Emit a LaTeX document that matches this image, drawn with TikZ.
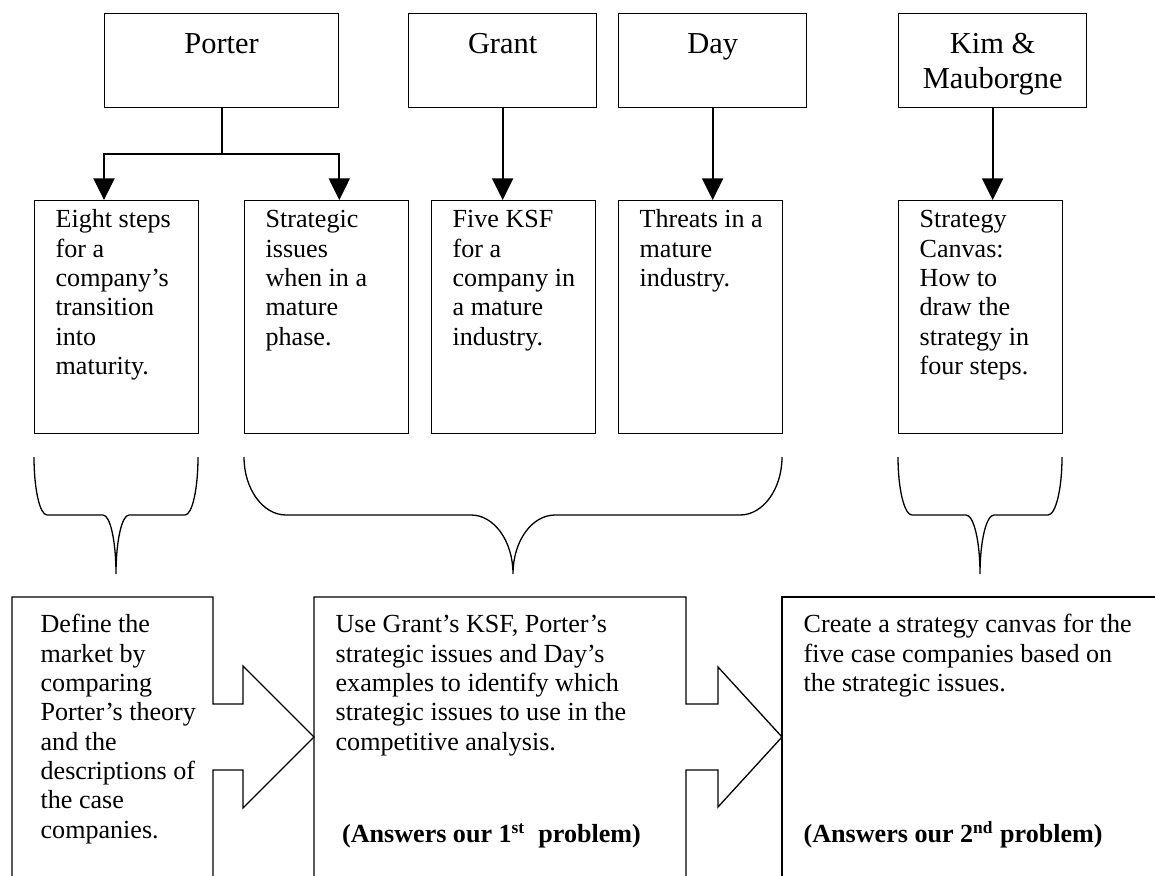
\documentclass[tikz,border=0pt]{standalone}
\usepackage{fontspec}
\setmainfont{Liberation Serif}
\usetikzlibrary{arrows.meta}

\newdimen\px
\px=0.46pt
% text block: width, height, left pad, top pad, text
\newcommand{\cell}[5]{\parbox[t][#2\px][t]{#1\px}{\leftskip=#3\px\vspace*{#4\px}\strut#5}}
% curly bracket under a group of boxes: left x, right x, curl radius
\newcommand{\groupbrace}[3]{%
  \draw[curl] (#1,457) .. controls (#1,489) and ({#1+0.45*#3},515) .. ({#1+#3},515)
    -- ({(#1+#2)/2-#3},515)
    .. controls ({(#1+#2)/2-0.45*#3},515) and ({(#1+#2)/2},541) .. ({(#1+#2)/2},574)
    .. controls ({(#1+#2)/2},541) and ({(#1+#2)/2+0.45*#3},515) .. ({(#1+#2)/2+#3},515)
    -- ({#2-#3},515)
    .. controls ({#2-0.45*#3},515) and (#2,489) .. (#2,457);}

\begin{document}
\begin{tikzpicture}[x=0.46pt,y=-0.46pt,
    box/.style={draw, line width=0.6pt, inner sep=0pt, anchor=north west,
      font=\fontsize{12}{13.5}\selectfont},
    head/.style={box, font=\fontsize{14}{16.1}\selectfont},
    txt/.style={box, draw=none},
    link/.style={line width=0.9pt},
    down/.style={link, -{Triangle[length=10pt,width=9.7pt]}},
    curl/.style={line width=0.6pt}]
  \useasboundingbox (0,0) rectangle (1155,875);

  % authors
  \node[head] (porter) at (104,13) {\cell{234}{94}{0}{15.5}{\centering Porter}};
  \node[head] (grant) at (408,13) {\cell{188}{94}{0}{15.5}{\centering Grant}};
  \node[head] (day) at (618,13) {\cell{188}{94}{0}{15.5}{\centering Day}};
  \node[head] (kim) at (898,13) {\cell{188}{94}{0}{15.5}{\centering Kim \&\\Mauborgne}};

  % theories
  \node[box] (eight) at (34,200) {\cell{164}{233}{21}{6.5}{Eight steps\\for a\\company's\\transition\\into\\maturity.}};
  \node[box] (strat) at (244,200) {\cell{164}{233}{21}{6.5}{Strategic\\issues\\when in a\\mature\\phase.}};
  \node[box] (ksf) at (431,200) {\cell{164}{233}{21}{6.5}{Five KSF\\for a\\company in\\a mature\\industry.}};
  \node[box] (threats) at (618,200) {\cell{164}{233}{21}{6.5}{Threats in a\\mature\\industry.}};
  \node[box] (canvas) at (898,200) {\cell{164}{233}{21}{6.5}{Strategy\\Canvas:\\How to\\draw the\\strategy in\\four steps.}};

  \draw[link] (porter.south) -- ++(0,46) coordinate (fork);
  \draw[down] (fork) -| (eight.north -| porter.west);
  \draw[down] (fork) -| (strat.north -| porter.east);
  \draw[down] (grant) -- (grant.south |- ksf.north);
  \draw[down] (day) -- (day.south |- threats.north);
  \draw[down] (kim) -- (kim.south |- canvas.north);

  \groupbrace{34}{198}{13}
  \groupbrace{244}{782}{42}
  \groupbrace{898}{1062}{14}

  % steps of the analysis
  \draw[curl] (12,876) -- (12,597) -- (213,597) -- (213,704) -- (243,704) -- (243,666)
    -- (314,737) -- (243,808) -- (243,770) -- (213,770) -- (213,876);
  \draw[curl] (314,876) -- (314,597) -- (686,597) -- (686,704) -- (718,704) -- (718,667)
    -- (782,737) -- (718,807) -- (718,770) -- (686,770) -- (686,876);
  \draw[curl] (782,876) -- (782,597) -- (1156,597);

  \node[txt] (define) at (12,597) {\cell{201}{270}{28}{14.5}{Define the\\market by\\comparing\\Porter's theory\\and the\\descriptions of\\the case\\companies.}};
  \node[txt] (use) at (314,597) {\cell{372}{270}{21}{14.5}{Use Grant's KSF, Porter's\\strategic issues and Day's\\examples to identify which\\strategic issues to use in the\\competitive analysis.\\[29pt]\hspace*{3pt}\textbf{(Answers our 1\textsuperscript{st}\ \ problem)}}};
  \node[txt] (create) at (782,597) {\cell{373}{270}{21}{14.5}{Create a strategy canvas for the\\five case companies based on\\the strategic issues.\\[56pt]\textbf{(Answers our 2\textsuperscript{nd} problem)}}};
\end{tikzpicture}
\end{document}
